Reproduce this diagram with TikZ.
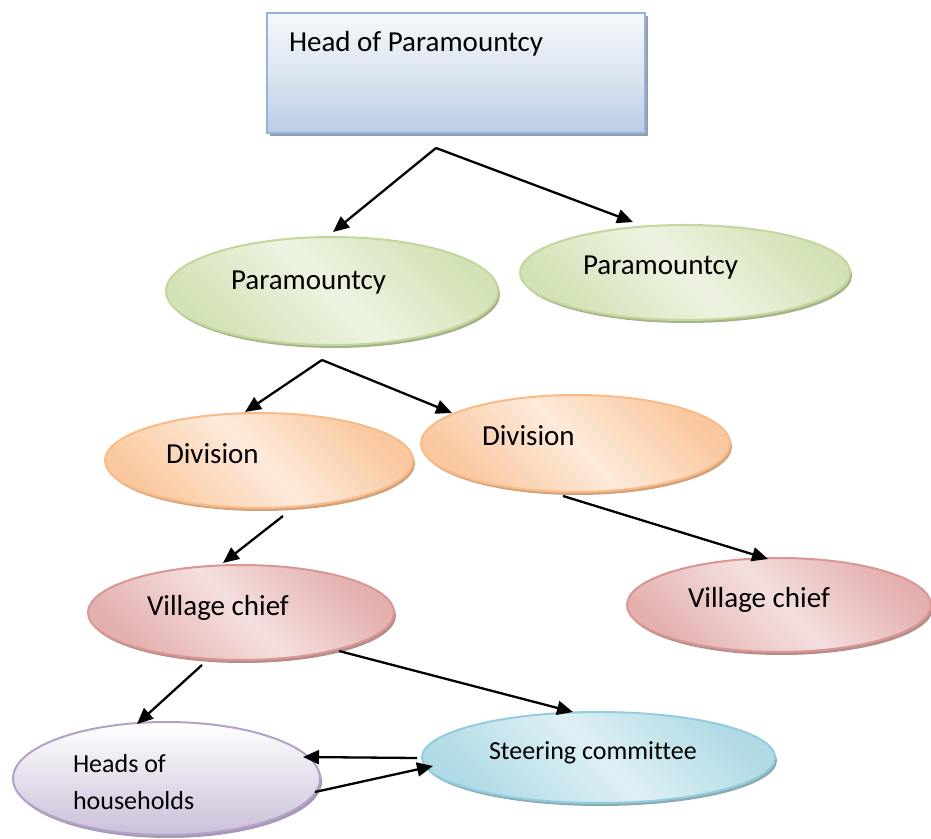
\documentclass[tikz,border=0pt]{standalone}
\usepackage{fontspec}
\setmainfont{Carlito}[Ligatures={NoCommon}]
\usetikzlibrary{arrows.meta,shadows,shapes.geometric}
\definecolor{headTop}{HTML}{F6F8FC}
\definecolor{headMid}{HTML}{DCE5F1}
\definecolor{headBot}{HTML}{B9CDE5}
\definecolor{headBorder}{HTML}{95B3D7}
\definecolor{headShadow}{HTML}{929DAD}
\definecolor{grnOut}{HTML}{D3E2B6}
\definecolor{grnIn}{HTML}{EDF3E1}
\definecolor{grnBorder}{HTML}{C3D69B}
\definecolor{grnShadow}{HTML}{A4B38A}
\definecolor{orgOut}{HTML}{FAC89E}
\definecolor{orgIn}{HTML}{FDEADB}
\definecolor{orgBorder}{HTML}{F8BB88}
\definecolor{orgShadow}{HTML}{D0A27C}
\definecolor{redOut}{HTML}{E3B0AF}
\definecolor{redIn}{HTML}{F3DFDE}
\definecolor{redBorder}{HTML}{D99694}
\definecolor{redShadow}{HTML}{B58C8B}
\definecolor{purTop}{HTML}{FFFFFF}
\definecolor{purBot}{HTML}{CBBFD9}
\definecolor{purBorder}{HTML}{B3A2C7}
\definecolor{purShadow}{HTML}{A697B6}
\definecolor{bluOut}{HTML}{B0DAE5}
\definecolor{bluIn}{HTML}{DEF0F5}
\definecolor{bluBorder}{HTML}{93CDDD}
\definecolor{bluShadow}{HTML}{8DAAB3}
\begin{document}
\begin{tikzpicture}[x=1pt,y=1pt,
  every node/.style={inner sep=0pt,outer sep=0pt},
  ellbase/.style={ellipse,line width=2pt},
  headbox/.style={rectangle,draw=headBorder,line width=2pt,
    top color=headTop,bottom color=headBot,middle color=headMid,
    drop shadow={shadow xshift=3pt,shadow yshift=-3.5pt,fill=headShadow,opacity=1},
    minimum width=378pt,minimum height=120pt},
  greenell/.style={ellbase,draw=grnBorder,top color=grnOut,bottom color=grnOut,middle color=grnIn,shading angle=-45,
    drop shadow={shadow xshift=2pt,shadow yshift=-3pt,fill=grnShadow,opacity=1}},
  orangeell/.style={ellbase,draw=orgBorder,top color=orgOut,bottom color=orgOut,middle color=orgIn,shading angle=-45,
    drop shadow={shadow xshift=2pt,shadow yshift=-3pt,fill=orgShadow,opacity=1}},
  redell/.style={ellbase,draw=redBorder,top color=redOut,bottom color=redOut,middle color=redIn,shading angle=-45,
    drop shadow={shadow xshift=2pt,shadow yshift=-3pt,fill=redShadow,opacity=1}},
  purpleell/.style={ellbase,draw=purBorder,top color=purTop,bottom color=purBot,
    drop shadow={shadow xshift=2pt,shadow yshift=-3pt,fill=purShadow,opacity=1}},
  blueell/.style={ellbase,draw=bluBorder,top color=bluOut,bottom color=bluOut,middle color=bluIn,shading angle=-45,
    drop shadow={shadow xshift=2pt,shadow yshift=-3pt,fill=bluShadow,opacity=1}},
  lbl/.style={anchor=base west,font=\fontsize{29}{35}\selectfont},
  lblsmall/.style={anchor=base west,font=\fontsize{26}{32}\selectfont},
  conn/.style={line width=2.3pt,-{Triangle[length=16pt,width=14pt]}}
]
\useasboundingbox (0,0) rectangle (931,838);

% shapes
\node[headbox] (head) at (456,765) {};
\node[greenell,minimum width=332pt,minimum height=108pt] (p1) at (332,547) {};
\node[greenell,minimum width=330pt,minimum height=95pt] (p2) at (685,565.5) {};
\node[orangeell,minimum width=308pt,minimum height=95pt] (d1) at (259,377.5) {};
\node[orangeell,minimum width=309pt,minimum height=97pt] (d2) at (575.5,394.5) {};
\node[redell,minimum width=306pt,minimum height=95pt] (v1) at (241,225.5) {};
\node[redell,minimum width=304pt,minimum height=94pt] (v2) at (779,233) {};
\node[purpleell,minimum width=307pt,minimum height=113pt] (h) at (166.5,59.5) {};
\node[blueell,minimum width=353pt,minimum height=91pt] (s) at (598.5,80.5) {};

% texts
\node[lbl] (headtext) at (289,786) {Head of Paramountcy};
\node[lbl] (p1text) at (231,548) {Paramountcy};
\node[lbl] (p2text) at (583,563) {Paramountcy};
\node[lbl] (d1text) at (166,374) {Division};
\node[lbl] (d2text) at (482,392) {Division};
\node[lbl] (v1text) at (147,222) {Village chief};
\node[lbl] (v2text) at (688,230) {Village chief};
\node[lblsmall] (htext1) at (73,66) {Heads of};
\node[lblsmall] (htext2) at (73,29) {households};
\node[lblsmall] (stext) at (489,79) {Steering committee};

% connectors
\draw[conn] ([shift={(-20,-75)}]head.center) -- ([shift={(1,59)}]p1.center);
\draw[conn] ([shift={(-20,-75)}]head.center) -- ([shift={(-52,50.5)}]p2.center);
\draw[conn] ([shift={(-10,-69)}]p1.center) -- ([shift={(-14,48.5)}]d1.center);
\draw[conn] ([shift={(-10,-69)}]p1.center) -- ([shift={(-123.5,30.5)}]d2.center);
\draw[conn] ([shift={(24,-55.5)}]d1.center) -- ([shift={(-18,49.5)}]v1.center);
\draw[conn] ([shift={(-12.5,-52.5)}]d2.center) -- ([shift={(-11,46)}]v2.center);
\draw[conn] ([shift={(-39,-52.5)}]v1.center) -- ([shift={(-29.5,54.5)}]h.center);
\draw[conn] ([shift={(98,-38.5)}]v1.center) -- ([shift={(-25.5,45.5)}]s.center);
\draw[conn] ([shift={(-181.5,-0.5)}]s.center) -- ([shift={(136.5,21.5)}]h.center);
\draw[conn] ([shift={(148.5,-13.5)}]h.center) -- ([shift={(-165.5,-8.5)}]s.center);
\end{tikzpicture}
\end{document}
